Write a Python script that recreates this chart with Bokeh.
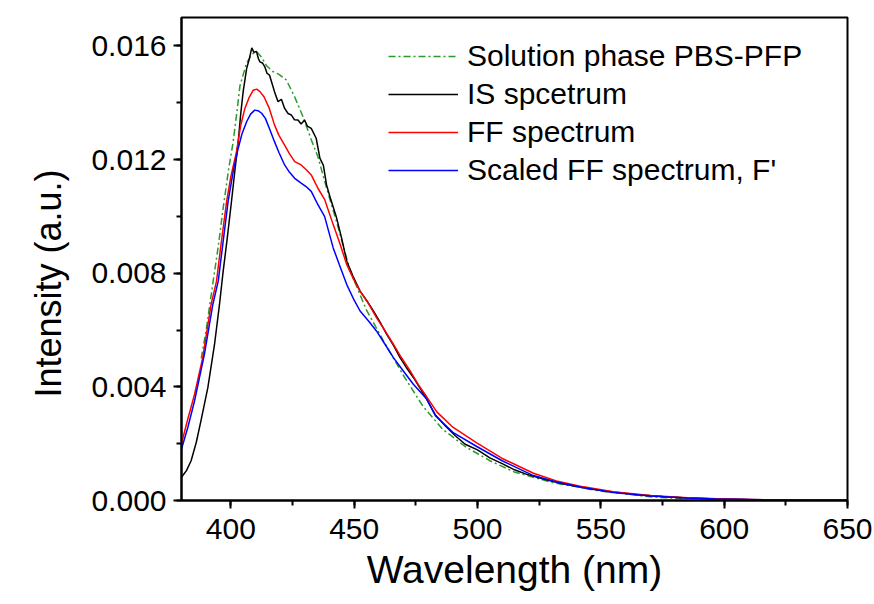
from bokeh.plotting import figure
from bokeh.models import (SingleIntervalTicker, NumeralTickFormatter, Legend,
                          LegendItem, Range1d, Title)
from bokeh.embed import file_html
from bokeh.resources import INLINE

# ---------------- data ----------------
series_names = ["Solution phase PBS-PFP", "IS spcetrum", "FF spectrum",
                "Scaled FF spectrum, F'"]

w_sol = [388, 390, 392.8, 395, 396.9, 399, 400.9, 402.5, 403.7, 406.4, 408.5,
         410.4, 412.5, 414.5, 417, 419.5, 422.5, 425.9, 429.3, 432.6, 435.3,
         438.8, 442.9, 448.3, 455, 462, 470, 478, 486, 495, 505, 515, 530, 550,
         570, 590, 610, 650]
i_sol = [0.0050, 0.0060, 0.0077, 0.0090, 0.0103, 0.0116, 0.0126, 0.0137,
         0.0146, 0.0154, 0.0157, 0.0158, 0.0156, 0.0153, 0.0151, 0.0150,
         0.0148, 0.0142, 0.0135, 0.0127, 0.0121, 0.0110, 0.0098, 0.0081,
         0.0067, 0.0056, 0.0044, 0.0033, 0.0025, 0.0019, 0.0014, 0.0010,
         0.00064, 0.00033, 0.00013, 0.00003, 0.0, 0.0]

w_is = [380, 382, 383.9, 386, 387.9, 390.7, 393.4, 395.4, 396.8, 398.5,
        400.1, 401.5, 403, 404, 405, 406.4, 407.5, 408.5, 409.3, 410.4,
        411.2, 411.8, 412.8, 413.8, 414.7, 415.7, 416.8, 417.7, 419.1, 420.5,
        421.8, 423.2, 424.5, 425.8, 427.2, 428.5, 429.9, 431, 432.6, 434.6,
        436.1, 437.5, 438.8, 440.5, 442.9, 445, 447, 449.5, 452.4, 455,
        457.8, 460.5, 463.2, 466, 468.6, 471, 474, 476.5, 479.4, 483,
        487, 491, 495, 500, 505, 510, 515, 520, 527, 535,
        545, 555, 565, 575, 585, 595, 605, 615, 625, 635,
        645, 650]
i_is = [0.00082, 0.00105, 0.00140, 0.00205, 0.00281, 0.00398, 0.00550, 0.00690, 0.00800, 0.00920,
        0.01040, 0.01150, 0.01263, 0.01360, 0.01439, 0.01520, 0.01555, 0.01593, 0.01578, 0.01580,
        0.01555, 0.01544, 0.01540, 0.01526, 0.01503, 0.01497, 0.01465, 0.01439, 0.01404, 0.01412,
        0.01380, 0.01362, 0.01357, 0.01340, 0.01339, 0.01325, 0.01339, 0.01318, 0.01310, 0.01275,
        0.01205, 0.01180, 0.01111, 0.01060, 0.00994, 0.00920, 0.00842, 0.00790, 0.00737, 0.00705,
        0.00667, 0.00628, 0.00585, 0.00545, 0.00503, 0.00470, 0.00433, 0.00398, 0.00357, 0.00300,
        0.00262, 0.00228, 0.00198, 0.00178, 0.00150, 0.00130, 0.00108, 0.00092, 0.00075, 0.00058,
        0.00042, 0.00030, 0.00020, 0.00014, 0.00009, 0.00006, 0.00004, 0.00002, 0.00003, 0.00001,
        0.00002, 0.00001]

w_ff = [380, 382.5, 385.3, 388.6, 392, 394.2, 396, 398.3, 400, 402.3,
        404, 405.7, 407.5, 409.1, 410.5, 411.8, 413.5, 415.6, 417.7, 419.5,
        421.8, 423.8, 425.9, 428.5, 430.5, 432.6, 435.3, 438, 441.5, 444,
        447, 450, 452.4, 456, 459.1, 462.5, 465.9, 469, 472.7, 476,
        479.4, 483.5, 490, 499.7, 510, 522.7, 532, 543, 555, 570,
        585, 597, 620, 650]
i_ff = [0.00200, 0.00285, 0.00374, 0.00503, 0.00690, 0.00772, 0.00900, 0.01053, 0.01140, 0.01228,
        0.01320, 0.01380, 0.01420, 0.01444, 0.01448, 0.01439, 0.01420, 0.01380, 0.01322, 0.01285,
        0.01251, 0.01220, 0.01193, 0.01181, 0.01165, 0.01146, 0.01099, 0.01060, 0.00971, 0.00910,
        0.00830, 0.00775, 0.00737, 0.00690, 0.00643, 0.00598, 0.00550, 0.00505, 0.00456, 0.00408,
        0.00365, 0.00312, 0.00258, 0.00203, 0.00148, 0.00096, 0.00069, 0.00048, 0.00031, 0.00018,
        0.00010, 0.00006, 0.00002, 0.00001]

w_sc = [380, 382.5, 385.3, 389.3, 392.7, 394.9, 397, 398.9, 401, 403,
        404.5, 406.4, 408, 409.7, 411, 412.5, 414, 415.6, 417.7, 419.5,
        421.8, 423.8, 425.9, 428.5, 430.5, 432.6, 435.3, 438, 441.5, 444,
        447, 450, 452.4, 456, 459.1, 462.5, 465.9, 470, 474, 479.4,
        483, 490, 499.7, 510, 522, 532, 543, 555, 570, 585,
        597, 620, 650]
i_sc = [0.00181, 0.00255, 0.00351, 0.00515, 0.00690, 0.00772, 0.00920, 0.01053, 0.01160, 0.01240,
        0.01290, 0.01333, 0.01360, 0.01374, 0.01372, 0.01363, 0.01345, 0.01310, 0.01263, 0.01225,
        0.01181, 0.01155, 0.01134, 0.01117, 0.01105, 0.01088, 0.01041, 0.01000, 0.00889, 0.00830,
        0.00760, 0.00705, 0.00667, 0.00630, 0.00596, 0.00550, 0.00503, 0.00455, 0.00409, 0.00357,
        0.00298, 0.00240, 0.00190, 0.00140, 0.00090, 0.00065, 0.00045, 0.00028, 0.00016, 0.00009,
        0.00005, 0.00002, 0.00001]

x_label = "Wavelength (nm)"
y_label = "Intensity (a.u.)"

# ---------------- figure ----------------
FONT = "Liberation Sans"

p = figure(width=874, height=604, output_backend="svg", toolbar_location=None,
           x_range=Range1d(380, 650), y_range=Range1d(0, 0.017),
           min_border_left=181, min_border_right=27, min_border_top=17,
           min_border_bottom=104)
p.background_fill_color = "white"
p.border_fill_color = "white"
p.xgrid.visible = False
p.ygrid.visible = False
p.outline_line_color = "black"
p.outline_line_width = 2
p.outline_line_alpha = 1

p.xaxis.ticker = SingleIntervalTicker(interval=50, num_minor_ticks=2)
p.yaxis.ticker = SingleIntervalTicker(interval=0.004, num_minor_ticks=2)
p.yaxis.formatter = NumeralTickFormatter(format="0.000")

for ax in (p.xaxis[0], p.yaxis[0]):
    ax.axis_line_width = 2
    ax.axis_line_color = "black"
    ax.major_tick_line_width = 2
    ax.minor_tick_line_width = 2
    ax.major_tick_line_color = "black"
    ax.minor_tick_line_color = "black"
    ax.major_tick_out = 8
    ax.major_tick_in = 0
    ax.minor_tick_out = 5
    ax.minor_tick_in = 0
    ax.major_label_text_font = FONT
    ax.major_label_text_font_size = "30px"
    ax.major_label_text_color = "black"

p.xaxis.major_label_standoff = 10
p.yaxis.major_label_standoff = 7

p.xaxis.axis_label = x_label
p.xaxis.axis_label_text_font = FONT
p.xaxis.axis_label_text_font_style = "normal"
p.xaxis.axis_label_text_font_size = "39px"
p.xaxis.axis_label_text_color = "black"
p.xaxis.axis_label_standoff = 6

# y-axis title as a side title so it can sit slightly below centre, as in the reference
p.add_layout(Title(text=y_label, text_font=FONT, text_font_size="36px",
                   text_font_style="normal", text_color="black",
                   align="left", offset=103, vertical_align="top",
                   standoff=36), "left")

r_sol = p.line(w_sol, i_sol, line_color="#2a9a2a", line_width=1.5,
               line_dash="7 3 2 3")
r_is = p.line(w_is, i_is, line_color="black", line_width=1.5)
r_ff = p.line(w_ff, i_ff, line_color="#ff0000", line_width=1.5)
r_sc = p.line(w_sc, i_sc, line_color="#0000ff", line_width=1.5)

legend = Legend(items=[LegendItem(label=series_names[0], renderers=[r_sol]),
                       LegendItem(label=series_names[1], renderers=[r_is]),
                       LegendItem(label=series_names[2], renderers=[r_ff]),
                       LegendItem(label=series_names[3], renderers=[r_sc])],
                location=(207, 313), border_line_color=None,
                background_fill_alpha=0, padding=0, margin=0, spacing=4,
                glyph_width=70, glyph_height=20, label_height=20,
                label_standoff=9, label_text_font=FONT,
                label_text_font_size="30px", label_text_color="black")
p.add_layout(legend)

open("out.html", "w").write(file_html(p, INLINE))
